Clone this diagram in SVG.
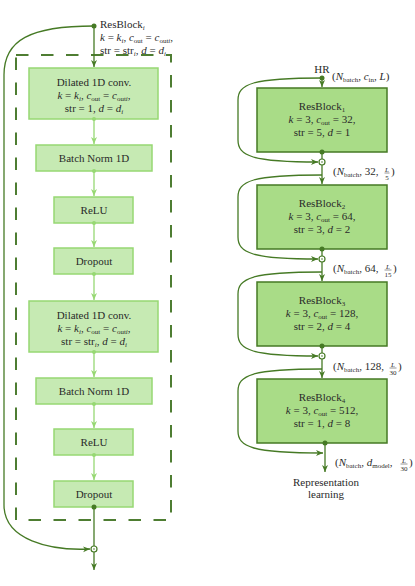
<svg xmlns="http://www.w3.org/2000/svg" width="415" height="586" viewBox="0 0 415 586" font-family="'Liberation Serif', 'Times New Roman', serif">
<style>
text{font-family:'Liberation Serif','Times New Roman',serif}
.t{font-size:11px;fill:#2a2a2a}
.m{font-style:italic}
.s{font-size:7px}
.f{font-size:7px;fill:#2a2a2a}
.lb{fill:#c6eab3;stroke:#97d873;stroke-width:1.5}
.db{fill:#a9dc87;stroke:#467a25;stroke-width:1.5}
.dk{stroke:#467a25;stroke-width:1.3;fill:none}
.lt{stroke:#97d873;stroke-width:1.3;fill:none}
.dd{fill:#467a25}
.ld{fill:#97d873}
.sum{fill:#fff;stroke:#467a25;stroke-width:1.2}
.bar{stroke:#2a2a2a;stroke-width:0.5}
</style>
<defs>
<marker id="ad" markerUnits="userSpaceOnUse" markerWidth="10" markerHeight="8" refX="7" refY="3" orient="auto" viewBox="0 0 10 8"><path d="M0,0 L7,3 L0,6 L2,3 z" fill="#467a25"/></marker>
<marker id="al" markerUnits="userSpaceOnUse" markerWidth="10" markerHeight="8" refX="7" refY="3" orient="auto" viewBox="0 0 10 8"><path d="M0,0 L7,3 L0,6 L2,3 z" fill="#97d873"/></marker>
</defs>

<g id="frame"><rect x="16" y="55" width="155" height="465" fill="none" stroke="#4e7d32" stroke-width="2" stroke-dasharray="12.5 12.5"/></g>

<g id="resblock-label">
<text class="t" x="100" y="28">ResBlock<tspan class="s m" dy="2">i</tspan></text>
<text class="t" x="100" y="41"><tspan class="m">k</tspan> = <tspan class="m">k</tspan><tspan class="s m" dy="2">i</tspan><tspan dy="-2">, </tspan><tspan class="m">c</tspan><tspan class="s" dy="2">out</tspan><tspan dy="-2"> = </tspan><tspan class="m">c</tspan><tspan class="s" dy="2">out<tspan class="m">i</tspan></tspan><tspan dy="-2">,</tspan></text>
<text class="t" x="100" y="54">str = str<tspan class="s m" dy="2">i</tspan><tspan dy="-2">, </tspan><tspan class="m">d</tspan> = <tspan class="m">d</tspan><tspan class="s m" dy="2">i</tspan></text>
</g>

<g id="conv1">
<rect class="lb" x="29" y="68" width="129" height="51"/>
<text class="t" x="94" y="85.5" text-anchor="middle">Dilated 1D conv.</text>
<text class="t" x="94" y="98.5" text-anchor="middle"><tspan class="m">k</tspan> = <tspan class="m">k</tspan><tspan class="s m" dy="2">i</tspan><tspan dy="-2">, </tspan><tspan class="m">c</tspan><tspan class="s" dy="2">out</tspan><tspan dy="-2"> = </tspan><tspan class="m">c</tspan><tspan class="s" dy="2">out<tspan class="m">i</tspan></tspan><tspan dy="-2">,</tspan></text>
<text class="t" x="94" y="111.5" text-anchor="middle">str = 1, <tspan class="m">d</tspan> = <tspan class="m">d</tspan><tspan class="s m" dy="2">i</tspan></text>
</g>
<g id="bn1"><rect class="lb" x="36" y="145" width="116" height="26"/><text class="t" x="94" y="162" text-anchor="middle">Batch Norm 1D</text></g>
<g id="relu1"><rect class="lb" x="54" y="197" width="79" height="26"/><text class="t" x="94" y="214" text-anchor="middle">ReLU</text></g>
<g id="drop1"><rect class="lb" x="54" y="248" width="79" height="26"/><text class="t" x="94" y="265" text-anchor="middle">Dropout</text></g>
<g id="conv2">
<rect class="lb" x="29" y="301" width="129" height="51"/>
<text class="t" x="94" y="318.5" text-anchor="middle">Dilated 1D conv.</text>
<text class="t" x="94" y="331.5" text-anchor="middle"><tspan class="m">k</tspan> = <tspan class="m">k</tspan><tspan class="s m" dy="2">i</tspan><tspan dy="-2">, </tspan><tspan class="m">c</tspan><tspan class="s" dy="2">out</tspan><tspan dy="-2"> = </tspan><tspan class="m">c</tspan><tspan class="s" dy="2">out<tspan class="m">i</tspan></tspan><tspan dy="-2">,</tspan></text>
<text class="t" x="94" y="344.5" text-anchor="middle">str = str<tspan class="s m" dy="2">i</tspan><tspan dy="-2">, </tspan><tspan class="m">d</tspan> = <tspan class="m">d</tspan><tspan class="s m" dy="2">i</tspan></text>
</g>
<g id="bn2"><rect class="lb" x="36" y="378" width="116" height="26"/><text class="t" x="94" y="395" text-anchor="middle">Batch Norm 1D</text></g>
<g id="relu2"><rect class="lb" x="54" y="429" width="79" height="26"/><text class="t" x="94" y="446" text-anchor="middle">ReLU</text></g>
<g id="drop2"><rect class="lb" x="54" y="481" width="79" height="26"/><text class="t" x="94" y="498" text-anchor="middle">Dropout</text></g>

<g id="hr"><text class="t" x="322" y="73" text-anchor="middle">HR</text></g>
<g id="rb1">
<rect class="db" x="257" y="88" width="130" height="64"/>
<text class="t" x="322" y="110" text-anchor="middle">ResBlock<tspan class="s" dy="2">1</tspan></text>
<text class="t" x="322" y="123" text-anchor="middle"><tspan class="m">k</tspan> = 3, <tspan class="m">c</tspan><tspan class="s" dy="2">out</tspan><tspan dy="-2"> = 32,</tspan></text>
<text class="t" x="322" y="136" text-anchor="middle">str = 5, <tspan class="m">d</tspan> = 1</text>
</g>
<g id="rb2">
<rect class="db" x="257" y="185" width="130" height="64"/>
<text class="t" x="322" y="207" text-anchor="middle">ResBlock<tspan class="s" dy="2">2</tspan></text>
<text class="t" x="322" y="220" text-anchor="middle"><tspan class="m">k</tspan> = 3, <tspan class="m">c</tspan><tspan class="s" dy="2">out</tspan><tspan dy="-2"> = 64,</tspan></text>
<text class="t" x="322" y="233" text-anchor="middle">str = 3, <tspan class="m">d</tspan> = 2</text>
</g>
<g id="rb3">
<rect class="db" x="257" y="282" width="130" height="64"/>
<text class="t" x="322" y="304" text-anchor="middle">ResBlock<tspan class="s" dy="2">3</tspan></text>
<text class="t" x="322" y="317" text-anchor="middle"><tspan class="m">k</tspan> = 3, <tspan class="m">c</tspan><tspan class="s" dy="2">out</tspan><tspan dy="-2"> = 128,</tspan></text>
<text class="t" x="322" y="330" text-anchor="middle">str = 2, <tspan class="m">d</tspan> = 4</text>
</g>
<g id="rb4">
<rect class="db" x="257" y="379" width="130" height="64"/>
<text class="t" x="322" y="401" text-anchor="middle">ResBlock<tspan class="s" dy="2">4</tspan></text>
<text class="t" x="322" y="414" text-anchor="middle"><tspan class="m">k</tspan> = 3, <tspan class="m">c</tspan><tspan class="s" dy="2">out</tspan><tspan dy="-2"> = 512,</tspan></text>
<text class="t" x="322" y="427" text-anchor="middle">str = 1, <tspan class="m">d</tspan> = 8</text>
</g>
<g id="output"><text class="t" x="326" y="486" text-anchor="middle">Representation</text><text class="t" x="326" y="498" text-anchor="middle">learning</text></g>

<g id="shape-labels">
<text class="t" x="332" y="80">(<tspan class="m">N</tspan><tspan class="s" dy="2">batch</tspan><tspan dy="-2">, </tspan><tspan class="m">c</tspan><tspan class="s" dy="2">in</tspan><tspan dy="-2">, </tspan><tspan class="m">L</tspan>)</text>
<text class="t" x="333" y="175">(<tspan class="m">N</tspan><tspan class="s" dy="2">batch</tspan><tspan dy="-2">, 32, </tspan></text>
<text class="f m" x="387" y="171.5" text-anchor="middle">L</text><line class="bar" x1="384.5" y1="173" x2="389.5" y2="173"/><text class="f" x="387" y="179.5" text-anchor="middle">5</text><text class="t" x="391" y="175">)</text>
<text class="t" x="333" y="272">(<tspan class="m">N</tspan><tspan class="s" dy="2">batch</tspan><tspan dy="-2">, 64, </tspan></text>
<text class="f m" x="388" y="268.5" text-anchor="middle">L</text><line class="bar" x1="384.5" y1="270" x2="391.5" y2="270"/><text class="f" x="388" y="276.5" text-anchor="middle">15</text><text class="t" x="393" y="272">)</text>
<text class="t" x="333" y="370">(<tspan class="m">N</tspan><tspan class="s" dy="2">batch</tspan><tspan dy="-2">, 128, </tspan></text>
<text class="f m" x="393" y="366.5" text-anchor="middle">L</text><line class="bar" x1="389.5" y1="368" x2="396.5" y2="368"/><text class="f" x="393" y="374.5" text-anchor="middle">30</text><text class="t" x="398" y="370">)</text>
<text class="t" x="335" y="466">(<tspan class="m">N</tspan><tspan class="s" dy="2">batch</tspan><tspan dy="-2">, </tspan><tspan class="m">d</tspan><tspan class="s" dy="2">model</tspan><tspan dy="-2">, </tspan></text>
<text class="f m" x="404" y="462.5" text-anchor="middle">L</text><line class="bar" x1="400.5" y1="464" x2="407.5" y2="464"/><text class="f" x="404" y="470.5" text-anchor="middle">30</text><text class="t" x="409" y="466">)</text>
</g>

<g id="connectors">
<path class="dk" d="M94,26 C30,26 4,40 4,75 L4,505 C4,540 50,551 90,549" marker-end="url(#ad)"/>
<line class="dk" x1="94" y1="26" x2="94" y2="67" marker-end="url(#ad)"/>
<circle class="dd" cx="94" cy="26" r="2.5"/>
<line class="lt" x1="94" y1="119" x2="94" y2="144" marker-end="url(#al)"/><circle class="ld" cx="94" cy="119" r="2"/>
<line class="lt" x1="94" y1="171" x2="94" y2="196" marker-end="url(#al)"/><circle class="ld" cx="94" cy="171" r="2"/>
<line class="lt" x1="94" y1="223" x2="94" y2="247" marker-end="url(#al)"/><circle class="ld" cx="94" cy="223" r="2"/>
<line class="lt" x1="94" y1="274" x2="94" y2="300" marker-end="url(#al)"/><circle class="ld" cx="94" cy="274" r="2"/>
<line class="lt" x1="94" y1="352" x2="94" y2="377" marker-end="url(#al)"/><circle class="ld" cx="94" cy="352" r="2"/>
<line class="lt" x1="94" y1="404" x2="94" y2="428" marker-end="url(#al)"/><circle class="ld" cx="94" cy="404" r="2"/>
<line class="lt" x1="94" y1="455" x2="94" y2="480" marker-end="url(#al)"/><circle class="ld" cx="94" cy="455" r="2"/>
<line class="dk" x1="94" y1="507" x2="94" y2="546"/><circle class="dd" cx="94" cy="507" r="2.5"/>
<circle class="sum" cx="94" cy="549" r="3"/><circle class="dd" cx="94" cy="549" r="0.8"/>
<line class="dk" x1="94" y1="552" x2="94" y2="570" marker-end="url(#ad)"/>

<line class="dk" x1="322" y1="78" x2="322" y2="87" marker-end="url(#ad)"/>
<path class="dk" d="M322,78 C252,78 238,84 238,100 L238,140 C238,156 252,162 318,162" marker-end="url(#ad)"/>
<circle class="dd" cx="322" cy="78" r="2.5"/>
<line class="dk" x1="322" y1="152" x2="322" y2="159"/><circle class="dd" cx="322" cy="152" r="2.5"/>
<circle class="sum" cx="322" cy="162" r="3"/><circle class="dd" cx="322" cy="162" r="0.8"/>
<line class="dk" x1="322" y1="165" x2="322" y2="184" marker-end="url(#ad)"/>
<path class="dk" d="M322,175 C252,175 238,181 238,197 L238,237 C238,253 252,259 318,259" marker-end="url(#ad)"/>
<line class="dk" x1="322" y1="249" x2="322" y2="256"/><circle class="dd" cx="322" cy="249" r="2.5"/>
<circle class="sum" cx="322" cy="259" r="3"/><circle class="dd" cx="322" cy="259" r="0.8"/>
<line class="dk" x1="322" y1="262" x2="322" y2="281" marker-end="url(#ad)"/>
<path class="dk" d="M322,272 C252,272 238,278 238,294 L238,334 C238,350 252,356 318,356" marker-end="url(#ad)"/>
<line class="dk" x1="322" y1="346" x2="322" y2="353"/><circle class="dd" cx="322" cy="346" r="2.5"/>
<circle class="sum" cx="322" cy="356" r="3"/><circle class="dd" cx="322" cy="356" r="0.8"/>
<line class="dk" x1="322" y1="359" x2="322" y2="378" marker-end="url(#ad)"/>
<path class="dk" d="M322,369 C252,369 238,375 238,391 L238,431 C238,447 252,453 323,453" marker-end="url(#ad)"/>
<line class="dk" x1="325" y1="443" x2="325" y2="472" marker-end="url(#ad)"/><circle class="dd" cx="325" cy="443" r="2.5"/>
</g>
</svg>
